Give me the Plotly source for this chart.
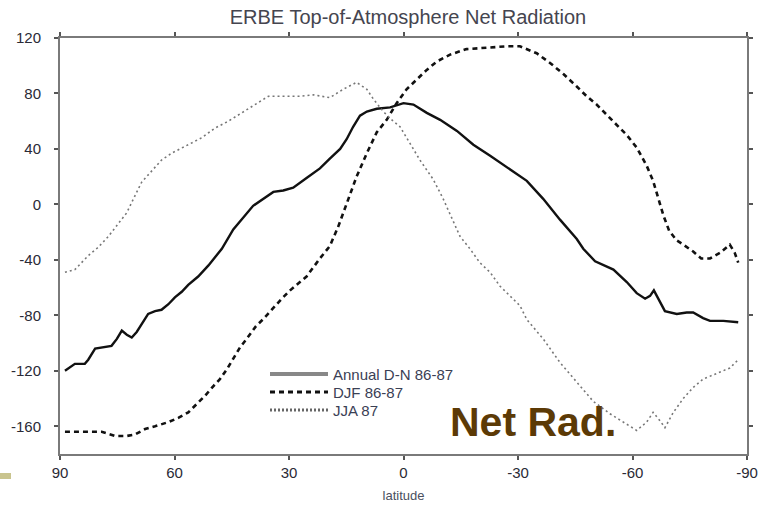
import plotly.graph_objects as go

# ---------------- data ----------------
lat_annual = [88.7, 86.1, 83.5, 82.6, 80.8, 78.2, 76.5, 75.1, 73.8, 72.5, 71.2, 69.9, 68.6, 66.9,
              65.1, 63.4, 61.6, 59.9, 58.1, 56.4, 53.8, 51.1, 47.6, 44.6, 39.4, 36.7, 34.1, 31.5,
              28.9, 25.4, 21.9, 19.3, 16.6, 14.9, 13.2, 11.4, 9.6, 7.0, 3.5, 0.0, -2.6, -6.1,
              -9.6, -14.0, -18.3, -22.7, -27.0, -30.5, -32.3, -36.6, -41.0, -45.4, -47.1, -50.2,
              -55.0, -58.5, -61.1, -63.3, -64.6, -65.6, -66.7, -68.5, -71.6, -74.2, -75.9, -78.5,
              -80.3, -83.8, -87.7]
net_annual = [-120, -115, -115, -112, -104, -103, -102, -97, -91, -94, -96, -92, -86, -79,
              -77, -76, -72, -67, -63, -58, -52, -44, -32, -18, -1, 4, 9, 10,
              12, 19, 26, 33, 40, 47, 56, 64, 67, 69, 70, 73, 72, 66,
              61, 53, 43, 35, 27, 20, 17, 4, -11, -25, -32, -41,
              -47, -56, -64, -68, -66, -62, -68, -77, -79, -78, -78, -82,
              -84, -84, -85]

lat_djf = [88.7, 84.8, 81.7, 79.1, 75.6, 72.5, 70.4, 67.7, 65.1, 61.6, 59.0, 56.4, 54.2, 52.0,
           49.8, 48.1, 46.3, 44.2, 42.8, 41.1, 38.7, 36.5, 34.3, 31.9, 29.7, 25.4, 21.9, 19.3,
           17.1, 14.9, 12.3, 9.6, 7.0, 4.4, 1.8, -0.8, -3.4, -6.1, -8.7, -12.2, -16.5, -21.8,
           -27.0, -30.5, -34.9, -38.4, -41.9, -45.4, -48.0, -50.6, -54.5, -58.5, -61.1, -62.5,
           -63.7, -65.4, -66.8, -68.1, -69.6, -71.6, -73.3, -75.9, -78.0, -80.3, -82.9, -85.5,
           -86.8, -87.7]
net_djf = [-164, -164, -164, -164, -167, -167, -166, -162, -160, -157, -154, -150, -144, -138,
           -131, -126, -119, -110, -103, -97, -88, -82, -75, -68, -62, -52, -39, -30,
           -16, 1, 20, 37, 52, 61, 73, 83, 90, 97, 103, 108, 112, 113,
           114, 114, 109, 102, 94, 85, 78, 72, 61, 50, 41, 34,
           28, 17, 4, -8, -19, -26, -29, -34, -39, -39, -35, -29,
           -35, -42]

lat_jja = [88.7, 86.1, 82.6, 80.0, 77.3, 74.7, 72.5, 70.4, 68.6, 66.0, 63.4, 60.7, 56.4, 52.9,
           49.4, 45.9, 42.4, 38.9, 35.4, 32.4, 27.1, 23.6, 19.3, 15.8, 12.3, 9.6, 7.9, 5.3,
           3.5, 0.9, -1.7, -4.3, -7.8, -10.4, -13.0, -14.8, -17.4, -20.0, -22.7, -25.3, -27.9,
           -30.5, -32.3, -36.6, -41.0, -45.4, -49.7, -54.1, -57.6, -61.1, -63.7, -65.4, -67.2,
           -68.5, -70.7, -73.3, -75.9, -78.5, -82.0, -85.5, -87.7]
net_jja = [-49, -47, -37, -31, -23, -14, -6, 6, 16, 24, 32, 37, 43, 48,
           55, 60, 66, 72, 78, 78, 78, 79, 77, 83, 88, 83, 76, 67,
           62, 56, 44, 32, 18, 4, -12, -23, -32, -42, -49, -59, -66,
           -73, -83, -97, -114, -128, -142, -151, -157, -163, -157, -150, -156,
           -161, -150, -140, -132, -126, -122, -118, -112]

series_names = ["Annual D-N 86-87", "DJF 86-87", "JJA 87"]
x_ticks = [90, 60, 30, 0, -30, -60, -90]
y_ticks = [120, 80, 40, 0, -40, -80, -120, -160]

# ---------------- figure ----------------
W, H = 763, 506
ML, MR, MT, MB = 60, 16, 38, 52
PW, PH = W - ML - MR, H - MT - MB


def px(x):
    return (x - ML) / PW


def py(y):
    return (H - MB - y) / PH


fig = go.Figure()
fig.add_trace(go.Scatter(x=lat_annual, y=net_annual, mode="lines", name=series_names[0],
                         line=dict(color="#111111", width=2.4), showlegend=False))
fig.add_trace(go.Scatter(x=lat_djf, y=net_djf, mode="lines", name=series_names[1],
                         line=dict(color="#111111", width=2.6, dash="5px,4px"), showlegend=False))
fig.add_trace(go.Scatter(x=lat_jja, y=net_jja, mode="lines", name=series_names[2],
                         line=dict(color="#777777", width=1.6, dash="2px,3px"), showlegend=False))

axis_common = dict(showline=True, linecolor="#7a7a7a", linewidth=2, mirror="ticks",
                   ticks="outside", ticklen=4, tickwidth=1.5, tickcolor="#555555",
                   showgrid=False, zeroline=False, automargin=False,
                   tickfont=dict(family="Liberation Sans, Arial", size=15, color="#2a2a36"))

fig.update_xaxes(range=[90, -90], tickvals=x_ticks, ticktext=[str(v) for v in x_ticks],
                 ticklabelstandoff=0,
                 title=dict(text="latitude", standoff=11,
                            font=dict(family="Liberation Sans, Arial", size=13, color="#4a5060")),
                 **axis_common)
fig.update_yaxes(range=[-180, 120], tickvals=y_ticks, ticktext=[str(v) for v in y_ticks],
                 ticklabelstandoff=10, **axis_common)

# manual legend (sample lines + labels)
rows_y = [374, 392, 410]
styles = [dict(color="#888888", width=4, dash="solid"),
          dict(color="#111111", width=3, dash="5px,4px"),
          dict(color="#666666", width=3, dash="2px,2px")]
shapes = []
annotations = []
for name, yy, st in zip(series_names, rows_y, styles):
    shapes.append(dict(type="line", xref="paper", yref="paper",
                       x0=px(270), x1=px(328), y0=py(yy), y1=py(yy), line=st))
    annotations.append(dict(text=name, xref="paper", yref="paper", x=px(332), y=py(yy),
                            xanchor="left", yanchor="middle", showarrow=False, borderpad=0,
                            font=dict(family="Liberation Sans, Arial", size=15, color="#3a4055")))

annotations.append(dict(text="<b>Net Rad.</b>", xref="paper", yref="paper", x=px(448), y=py(422),
                        xanchor="left", yanchor="middle", showarrow=False,
                        font=dict(family="Liberation Sans, Arial", size=41, color="#5C3A06")))

shapes.append(dict(type="rect", xref="paper", yref="paper", x0=px(0), x1=px(11),
                   y0=py(479), y1=py(473), fillcolor="#c9c48e", line=dict(width=0)))

fig.update_layout(
    width=W, height=H,
    margin=dict(l=ML, r=MR, t=MT, b=MB, autoexpand=False),
    paper_bgcolor="white", plot_bgcolor="white",
    title=dict(text="ERBE Top-of-Atmosphere Net Radiation", x=408 / W, xanchor="center",
               y=1 - 17 / H, yanchor="middle", automargin=False,
               font=dict(family="Liberation Sans, Arial", size=20, color="#45454f")),
    shapes=shapes, annotations=annotations,
    showlegend=False,
)

fig.write_html("out.html", config={"displayModeBar": False},
               post_script="document.body.style.margin='0px';document.body.style.padding='0px';")
